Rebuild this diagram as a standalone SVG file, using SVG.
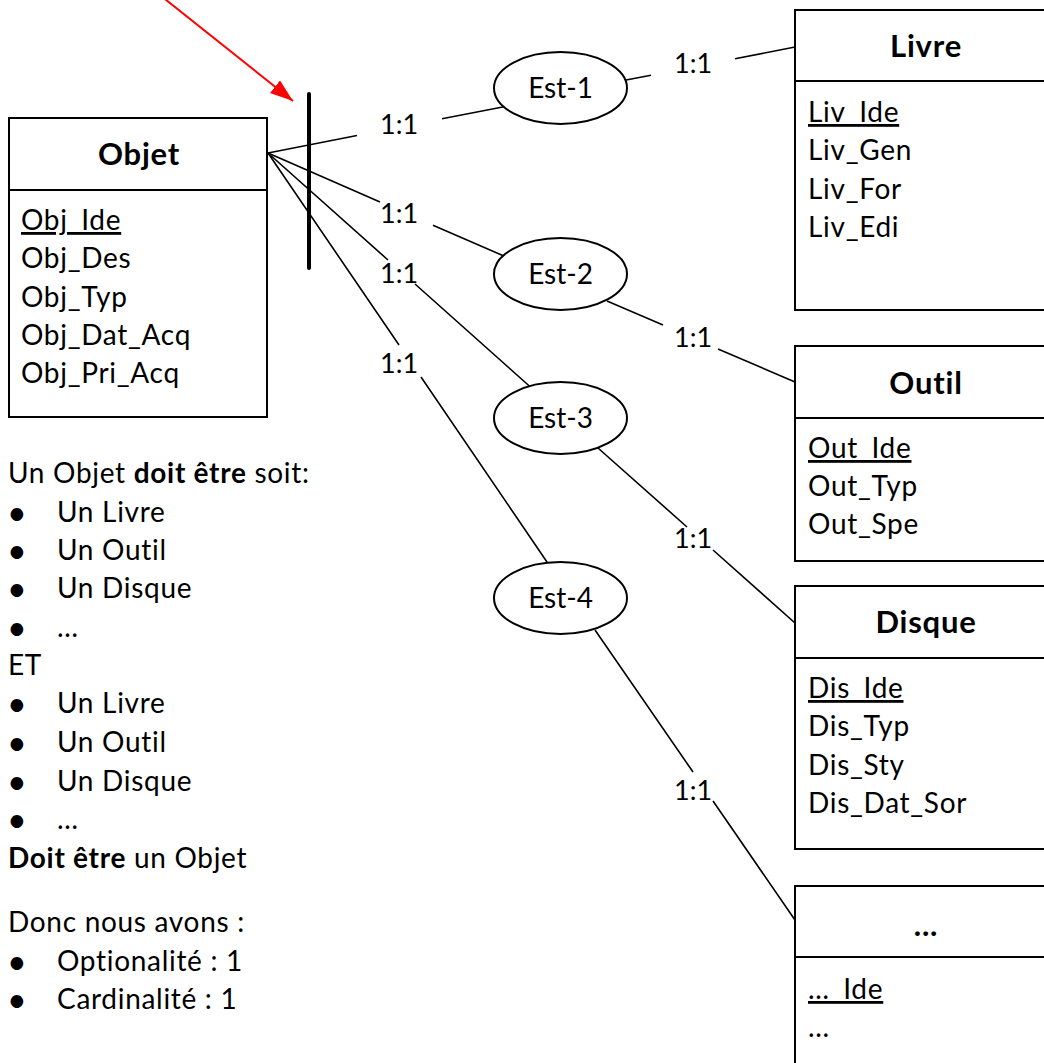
<svg xmlns="http://www.w3.org/2000/svg" width="1044" height="1063" viewBox="0 0 1044 1063">
<defs>
<style>
text{font-family:Lato,"Liberation Sans",sans-serif;fill:#000}
.t{font-size:28px;letter-spacing:0.7px}
.l{font-size:27px}
.h{font-size:31px;font-weight:bold;text-anchor:middle;letter-spacing:0.8px}
.c{font-size:28px;text-anchor:middle}
.u{text-decoration:underline}
.bu{font-size:34px}
.box{fill:#fff;stroke:#000;stroke-width:2}
.div{stroke:#000;stroke-width:2}
.ell{fill:#fff;stroke:#000;stroke-width:2}
.con{fill:none;stroke:#000;stroke-width:1.6}
.b{font-weight:bold}
</style>
<marker id="ah" markerUnits="userSpaceOnUse" markerWidth="26" markerHeight="18" refX="23" refY="8" orient="auto">
<path d="M0,0 L23,8 L0,16 z" fill="#ff0000"/>
</marker>
</defs>
<rect width="1044" height="1063" fill="#fff"/>

<g id="connectors">
<path class="con" d="M268,153 L357,135.5 M442,118.8 L504,106.7"/>
<path class="con" d="M626,80 L651,75.3 M735,58.8 L795,47"/>
<path class="con" d="M268,153 L380,202 M433,225.2 L505,256.5"/>
<path class="con" d="M607,301 L663,325 M718,349 L795,382"/>
<path class="con" d="M268,153 L388,260 M415,284 L531,387.5"/>
<path class="con" d="M598,448 L687,527 M713,550 L795,623"/>
<path class="con" d="M268,153 L399,345 M421,377 L547,562"/>
<path class="con" d="M595,630 L693,772 M713,801 L795,920"/>
<line x1="309" y1="94" x2="309" y2="268" stroke="#000" stroke-width="4" stroke-linecap="round"/>
<line x1="136" y1="-24" x2="293" y2="101" stroke="#ff0000" stroke-width="2" marker-end="url(#ah)"/>
<g id="labels">
<text class="l" x="380" y="134">1:1</text>
<text class="l" x="380" y="223">1:1</text>
<text class="l" x="380" y="283">1:1</text>
<text class="l" x="380" y="373">1:1</text>
<text class="l" x="674" y="73">1:1</text>
<text class="l" x="674" y="347">1:1</text>
<text class="l" x="674" y="548">1:1</text>
<text class="l" x="674" y="800">1:1</text>
</g>
</g>

<g id="objet">
<rect class="box" x="9" y="118" width="258" height="299"/>
<line class="div" x1="9" y1="190" x2="267" y2="190"/>
<text class="h" x="139" y="165">Objet</text>
<text class="t u" x="21" y="230">Obj_Ide</text>
<text class="t" x="21" y="268">Obj_Des</text>
<text class="t" x="21" y="307">Obj_Typ</text>
<text class="t" x="21" y="345">Obj_Dat_Acq</text>
<text class="t" x="21" y="383">Obj_Pri_Acq</text>
</g>

<g id="est1"><ellipse class="ell" cx="560.5" cy="88" rx="66.5" ry="36"/><text class="c" x="560.5" y="98">Est-1</text></g>
<g id="est2"><ellipse class="ell" cx="560.5" cy="274" rx="66.5" ry="36"/><text class="c" x="560.5" y="284">Est-2</text></g>
<g id="est3"><ellipse class="ell" cx="560.5" cy="418" rx="66.5" ry="36"/><text class="c" x="560.5" y="428">Est-3</text></g>
<g id="est4"><ellipse class="ell" cx="560.5" cy="598" rx="66.5" ry="36"/><text class="c" x="560.5" y="608">Est-4</text></g>

<g id="livre">
<rect class="box" x="795" y="10" width="258" height="300"/>
<line class="div" x1="795" y1="81" x2="1053" y2="81"/>
<text class="h" x="926" y="57">Livre</text>
<text class="t u" x="808" y="122">Liv_Ide</text>
<text class="t" x="808" y="160">Liv_Gen</text>
<text class="t" x="808" y="199">Liv_For</text>
<text class="t" x="808" y="237">Liv_Edi</text>
</g>

<g id="outil">
<rect class="box" x="795" y="346" width="258" height="215"/>
<line class="div" x1="795" y1="418" x2="1053" y2="418"/>
<text class="h" x="926" y="394">Outil</text>
<text class="t u" x="808" y="458">Out_Ide</text>
<text class="t" x="808" y="496">Out_Typ</text>
<text class="t" x="808" y="534">Out_Spe</text>
</g>

<g id="disque">
<rect class="box" x="795" y="586" width="258" height="263"/>
<line class="div" x1="795" y1="658" x2="1053" y2="658"/>
<text class="h" x="926" y="633">Disque</text>
<text class="t u" x="808" y="698">Dis_Ide</text>
<text class="t" x="808" y="736">Dis_Typ</text>
<text class="t" x="808" y="775">Dis_Sty</text>
<text class="t" x="808" y="813">Dis_Dat_Sor</text>
</g>

<g id="autre">
<rect class="box" x="795" y="886" width="258" height="200"/>
<line class="div" x1="795" y1="957" x2="1053" y2="957"/>
<text class="h" x="926" y="936">...</text>
<text class="t u" x="808" y="999">…_Ide</text>
<text class="t" x="808" y="1037">...</text>
</g>

<g id="notes">
<text class="t" x="8" y="483">Un Objet <tspan class="b">doit être</tspan> soit:</text>
<text class="bu" x="7" y="525">•</text><text class="t" x="57" y="522">Un Livre</text>
<text class="bu" x="7" y="563">•</text><text class="t" x="57" y="560">Un Outil</text>
<text class="bu" x="7" y="601">•</text><text class="t" x="57" y="598">Un Disque</text>
<text class="bu" x="7" y="640">•</text><text class="t" x="57" y="637">…</text>
<text class="t" x="8" y="675">ET</text>
<text class="bu" x="7" y="716">•</text><text class="t" x="57" y="713">Un Livre</text>
<text class="bu" x="7" y="755">•</text><text class="t" x="57" y="752">Un Outil</text>
<text class="bu" x="7" y="794">•</text><text class="t" x="57" y="791">Un Disque</text>
<text class="bu" x="7" y="832">•</text><text class="t" x="57" y="829">…</text>
<text class="t" x="8" y="868"><tspan class="b">Doit être</tspan> un Objet</text>
<text class="t" x="8" y="932">Donc nous avons :</text>
<text class="bu" x="7" y="974">•</text><text class="t" x="57" y="971">Optionalité : 1</text>
<text class="bu" x="7" y="1012">•</text><text class="t" x="57" y="1009">Cardinalité : 1</text>
</g>
</svg>
